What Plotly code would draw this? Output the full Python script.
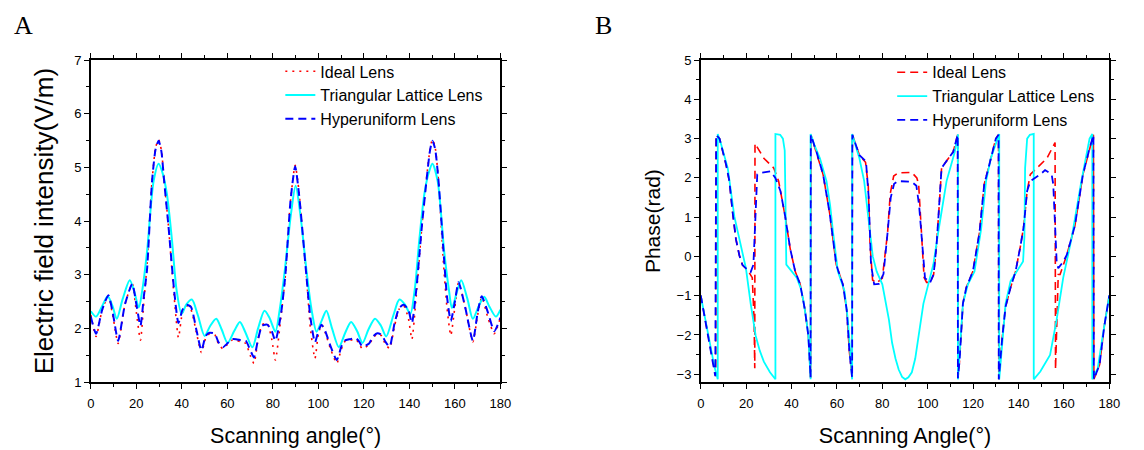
import plotly.graph_objects as go

# ---------------- Panel A: electric field intensity ----------------
a_tri_x = [0, 2.3, 5, 7.4, 9.5, 11.4, 14, 17.1, 19, 21.1, 22.6, 24.7, 27.6, 29.8, 31.5, 33.4, 35.6, 37.7,
           39.9, 42, 44.4, 47, 50.0, 52.5, 55.1, 57.5, 60.1, 63, 65.5, 68, 71.0, 73.5, 76.3, 78.5, 81.1,
           83, 85.2, 88, 90, 92, 94.8, 97, 99.2, 101.5, 103.5, 106, 109.0, 111.8, 114.4, 117, 119.4,
           122, 124.9, 127.5, 129.8, 133, 135.6, 138, 140.4, 142.3, 144.4, 146.6, 148.5, 150.1, 152.4,
           155.3, 157.4, 158.7, 161, 162.8, 165.5, 167.9, 170.5, 172.9, 175, 178, 180]
a_tri_y = [2.32, 2.22, 2.42, 2.60, 2.42, 2.18, 2.55, 2.90, 2.70, 2.39, 2.71, 3.43, 4.75, 5.07, 4.90, 4.51, 3.67, 2.71,
           2.27, 2.45, 2.54, 2.25, 1.86, 2.05, 2.18, 1.98, 1.73, 1.95, 2.12, 1.92, 1.65, 2.00, 2.33, 2.20, 1.94,
           2.35, 3.07, 4.15, 4.66, 4.15, 3.07, 2.35, 1.94, 2.15, 2.33, 2.00, 1.65, 1.92, 2.12, 1.95, 1.73,
           1.98, 2.18, 2.05, 1.85, 2.25, 2.54, 2.45, 2.27, 2.71, 3.67, 4.51, 4.90, 5.07, 4.75,
           3.43, 2.71, 2.38, 2.70, 2.90, 2.55, 2.18, 2.42, 2.59, 2.42, 2.22, 2.35]

a_hyp_x = [0, 2.3, 5, 7.7, 9.8, 12.0, 15, 18.2, 20, 21.8, 23.3, 24.7, 26.9, 28.5, 29.8, 31, 32.2, 34.1, 36.6,
           38.5, 40.3, 42.1, 44, 46.5, 48.6, 50.5, 52.2, 54.5, 56, 58.0, 60, 62, 63.8, 66, 68.1, 70, 71.7,
           73.5, 75.3, 77.5, 79.5, 81.1, 83.5, 85.5, 87.8, 89.8, 91.5, 92.2, 94.8, 96.5, 98.5, 100, 101.4,
           103, 105.5, 108.1, 110, 111.5, 114, 116.5, 118, 119.4, 122.3, 124, 125.9, 127.8, 129.5, 131.3,
           133.5, 135.5, 137.5, 139.5, 141.1, 143, 145.5, 147.5, 149, 150.1, 151.3, 152.8, 155, 156.5,
           158.2, 160, 161.6, 164.5, 167.9, 170, 171.8, 174.5, 177.3, 180]
a_hyp_y = [2.22, 1.90, 2.35, 2.62, 2.25, 1.77, 2.45, 2.83, 2.45, 2.05, 2.60, 3.10, 4.75, 5.35, 5.50, 5.30, 4.75, 3.91, 2.71,
           2.10, 2.35, 2.44, 2.40, 1.95, 1.59, 1.86, 1.92, 1.90, 1.75, 1.65, 1.72, 1.80, 1.80, 1.78, 1.77, 1.60, 1.46,
           1.80, 2.05, 2.07, 1.95, 1.77, 2.25, 3.00, 4.40, 5.02, 4.50, 4.20, 2.95, 2.20, 1.74, 1.95, 2.07,
           1.95, 1.65, 1.41, 1.65, 1.77, 1.80, 1.82, 1.75, 1.66, 1.72, 1.85, 1.91, 1.88, 1.75, 1.66,
           2.10, 2.38, 2.44, 2.35, 2.10, 2.71, 3.91, 4.75, 5.30, 5.50, 5.35, 4.75, 3.43, 2.60,
           2.14, 2.50, 2.86, 2.40, 1.77, 2.30, 2.60, 2.30, 1.95, 2.20]

a_ideal_x = a_hyp_x
a_ideal_y = [2.25, 1.85, 2.35, 2.60, 2.20, 1.72, 2.45, 2.83, 2.30, 1.78, 2.50, 3.20, 4.75, 5.38, 5.52, 5.32, 4.78, 3.91, 2.60,
             1.83, 2.30, 2.42, 2.35, 1.90, 1.55, 1.82, 1.90, 1.88, 1.72, 1.62, 1.70, 1.78, 1.78, 1.75, 1.72, 1.50, 1.35,
             1.80, 2.07, 2.10, 1.80, 1.41, 2.20, 3.00, 4.40, 5.04, 4.55, 4.20, 2.95, 2.00, 1.44, 1.90, 2.07,
             1.92, 1.60, 1.35, 1.60, 1.75, 1.78, 1.80, 1.70, 1.62, 1.70, 1.82, 1.90, 1.86, 1.70, 1.63,
             2.05, 2.36, 2.42, 2.20, 1.80, 2.60, 3.91, 4.78, 5.32, 5.52, 5.38, 4.75, 3.20, 2.40,
             1.87, 2.40, 2.85, 2.40, 1.75, 2.25, 2.58, 2.20, 1.90, 2.20]

# ---------------- Panel B: phase ----------------
b_tri_x = [0, 2, 4, 6, 7.5, 7.5, 9, 11.9, 14.8, 17.7, 19.9, 22.0, 24.2, 26, 27.8, 30.5, 32.9, 32.9, 35, 36.2, 37.0,
           37.3, 37.7, 40.1, 42.3, 44, 45.2, 46.5, 47.4, 48.4, 48.4, 50, 52.5, 55.4, 57, 58.3, 60.4, 63.3, 64.8,
           65.8, 66.7, 66.7, 68.5, 69.9, 72.0, 74.2, 75.8, 77.5, 80.0, 82.9, 84.3, 85.8, 87.2, 88.7, 90.1, 91.5,
           93.0, 94.5, 95.9, 98.1,
           101.0, 102.5, 104.6, 106.5, 108.3, 111.9, 113.3, 113.3, 114.1, 115.5, 117.7, 120.6, 123.5, 125.7,
           127.8, 130.7, 131.5, 131.5, 132.6, 134.3, 136.5, 139.4, 142.0, 142.6, 142.9, 143.8, 145, 146.7,
           146.7, 149.6, 153.9, 156.8, 159.7, 163.3, 167.7, 171.3, 172.5, 172.5, 174.9, 177.1, 180]
b_tri_y = [-1.0, -1.6, -2.3, -2.8, -3.13, 3.12, 2.85, 2.25, 1.02, 0.28, -0.30, -1.20, -2.02, -2.40, -2.68, -2.95, -3.13, 3.12, 3.10, 3.00, 2.70,
           1.50, -0.21, -0.38, -0.54, -0.80, -1.12, -1.60, -2.02, -3.13, 3.12, 2.85, 2.50, 1.92, 1.30, 0.61, -0.38, -0.87, -1.61,
           -2.40, -3.13, 3.12, 2.80, 2.50, 1.92, 0.77, 0.00, -0.38, -0.71, -1.61, -2.20, -2.60, -2.88, -3.07, -3.13, -3.08,
           -2.95, -2.60, -2.02, -1.20,
           -0.54, -0.20, 0.61, 1.30, 1.92, 2.66, 3.11, -3.13, -2.43, -1.20, -0.71, -0.38, 0.69, 1.92,
           2.50, 3.03, 3.12, -3.13, -2.30, -1.20, -0.63, -0.38, -0.13, 0.50, 2.25, 3.00, 3.10, 3.12,
           -3.13, -2.93, -2.51, -1.61, -0.54, 0.44, 1.92, 3.00, 3.12, -3.13, -2.85, -2.02, -0.99]

b_ideal_x = [0, 3.2, 5.4, 6.6, 6.8, 8.3, 11.2, 12.6, 14.1, 15.5, 17.0, 18.4, 20.6, 22.7, 23.5, 23.8, 23.9, 27.8, 32.2,
             34.3, 35.5, 37.2, 39.4, 41.6, 43.8, 45.9, 47.4, 48.4, 48.5, 51.0, 53.9, 56.8, 59.7, 62.6, 64.3, 65.5,
             66.7, 66.8, 69.9, 72.6, 73.8, 74.6, 75.7, 77.5, 80.0, 82.3, 83.5, 85.0, 87, 93, 95.2, 96.0, 97.4,
             98.4, 99.5, 101, 102.6, 103.9, 105.3, 106.1, 107.5, 111.2, 113.2, 113.3, 114, 115.5, 117, 119.9,
             122.8, 124.9, 127.1, 130.0, 131.2, 131.3, 132.9, 134.3, 136.5, 138.7, 140.9, 142.3, 143.8, 145.2,
             148.1, 152.5, 156.1, 156.3, 157.5, 158.3, 161.2, 164.8, 168.4, 171.3, 173.0, 173.2, 175.7, 177.8, 180]
b_ideal_y = [-0.99, -2.02, -2.76, -3.05, 3.10, 3.00, 2.33, 1.92, 1.10, 0.44, 0.03, -0.22, -0.34, -0.54, -1.61, -2.85, 2.88, 2.50, 2.25,
             1.92, 1.55, 1.02, 0.20, -0.38, -0.71, -1.36, -2.02, -3.09, 3.10, 2.66, 2.09, 1.10, -0.21, -0.71, -1.36, -2.43,
             -3.09, 3.10, 2.58, 2.40, 1.80, 0.30, -0.60, -0.68, -0.55, 0.60, 1.60, 2.05, 2.13, 2.14, 2.00, 1.84, 0.44,
             -0.54, -0.66, -0.66, -0.46, 0.30, 1.50, 2.25, 2.37, 2.66, 3.10, -3.10, -2.68, -1.20, -0.79, -0.38,
             0.61, 1.84, 2.33, 3.00, 3.10, -3.13, -2.02, -1.28, -0.79, -0.38, 0.28, 0.77, 1.67, 2.09,
             2.25, 2.50, 2.90, -2.88, -0.46, -0.46, 0.03, 0.77, 2.09, 2.75, 3.10, -3.13, -2.76, -1.77, -0.99]

b_hyp_x = [0, 3.2, 5.4, 6.4, 6.8, 8.3, 11.2, 12.6, 14.1, 15.5, 17.0, 18.4, 20.6, 22.0, 23.2, 24.2, 24.9, 26.4, 30.7,
           32.9, 35.1, 37.2, 39.4, 41.6, 43.8, 45.9, 47.4, 48.4, 48.5, 51.0, 53.9, 56.8, 59.7, 62.6, 64.3, 65.5,
           66.7, 66.8, 69.9, 72.8, 74.0, 75.0, 76.4, 78.5, 80.5, 82.3, 83.7, 85.2, 87, 93, 95, 96.2, 97.6,
           98.8, 101.0, 102.6, 103.9, 105.3, 106.1, 107.5, 111.2, 113.2, 113.3, 114, 115.5, 117, 119.9,
           122.8, 124.9, 127.1, 130.0, 131.2, 131.3, 132.9, 134.3, 136.5, 138.7, 140.9, 142.3, 143.8, 145.2,
           149.6, 151.7, 154.6, 155.3, 156.8, 157.5, 159.7, 161.2, 164.8, 168.4, 171.3, 173.0, 173.2, 175.7,
           177.8, 180]
b_hyp_y = [-0.99, -2.02, -2.76, -3.05, 3.10, 3.00, 2.33, 1.92, 1.10, 0.44, 0.03, -0.22, -0.34, -0.40, -0.21, 1.27, 2.09, 2.13, 2.17,
           2.00, 1.67, 1.02, 0.20, -0.38, -0.71, -1.36, -2.02, -3.09, 3.10, 2.66, 2.09, 1.10, -0.21, -0.71, -1.36, -2.43,
           -3.09, 3.10, 2.58, 2.42, 1.50, -0.20, -0.71, -0.70, -0.45, 0.60, 1.50, 1.85, 1.92, 1.90, 1.80, 1.30, 0.20,
           -0.55, -0.67, -0.46, 0.30, 1.50, 2.25, 2.37, 2.66, 3.10, -3.10, -2.68, -1.20, -0.79, -0.38,
           0.61, 1.84, 2.33, 3.00, 3.10, -3.13, -2.02, -1.28, -0.79, -0.38, 0.28, 0.77, 1.67, 1.92,
           2.09, 2.20, 2.09, 1.84, -0.13, -0.30, -0.13, 0.03, 0.77, 2.09, 2.75, 3.10, -3.13, -2.76,
           -1.77, -0.99]

x_ticks = [0, 20, 40, 60, 80, 100, 120, 140, 160, 180]
a_yticks = [1, 2, 3, 4, 5, 6, 7]
b_yticks = [-3, -2, -1, 0, 1, 2, 3, 4, 5]

RED = "#ff0000"
CYAN = "#00ffff"
BLUE = "#0000ff"
FONT = "Liberation Sans, Arial, sans-serif"
SERIF = "Liberation Serif, Times New Roman, serif"

fig = go.Figure()
fig.add_trace(go.Scatter(x=a_ideal_x, y=a_ideal_y, name="Ideal Lens", mode="lines",
                         line=dict(color=RED, width=1.6, dash="2px,5px", shape="spline", smoothing=0.6),
                         xaxis="x", yaxis="y", legend="legend"))
fig.add_trace(go.Scatter(x=a_tri_x, y=a_tri_y, name="Triangular Lattice Lens", mode="lines",
                         line=dict(color=CYAN, width=2, shape="spline", smoothing=0.8),
                         xaxis="x", yaxis="y", legend="legend"))
fig.add_trace(go.Scatter(x=a_hyp_x, y=a_hyp_y, name="Hyperuniform Lens", mode="lines",
                         line=dict(color=BLUE, width=2, dash="8px,5px", shape="spline", smoothing=0.6),
                         xaxis="x", yaxis="y", legend="legend"))

fig.add_trace(go.Scatter(x=b_ideal_x, y=b_ideal_y, name="Ideal Lens", mode="lines",
                         line=dict(color=RED, width=1.6, dash="8px,5px"),
                         xaxis="x2", yaxis="y2", legend="legend2"))
fig.add_trace(go.Scatter(x=b_tri_x, y=b_tri_y, name="Triangular Lattice Lens", mode="lines",
                         line=dict(color=CYAN, width=1.8),
                         xaxis="x2", yaxis="y2", legend="legend2"))
fig.add_trace(go.Scatter(x=b_hyp_x, y=b_hyp_y, name="Hyperuniform Lens", mode="lines",
                         line=dict(color=BLUE, width=1.8, dash="8px,5px"),
                         xaxis="x2", yaxis="y2", legend="legend2"))

W, H = 1144, 450
def dx(px):
    return px / W
def dy(py):
    return 1 - py / H

axis_common = dict(showline=True, linecolor="black", linewidth=1.5, mirror="allticks",
                   ticks="outside", ticklen=5, tickwidth=1.2, tickcolor="black",
                   showgrid=False, zeroline=False,
                   tickfont=dict(family=FONT, size=13, color="black"))

fig.update_layout(
    width=W, height=H, margin=dict(l=0, r=0, t=0, b=0),
    paper_bgcolor="white", plot_bgcolor="white",
    xaxis=dict(domain=[dx(88), dx(503)], range=[0, 180], tickvals=x_ticks, anchor="y",
               ticklabelstandoff=4,
               minor=dict(dtick=10, tick0=0, ticks="outside", ticklen=3, tickcolor="black"),
               title=dict(text="Scanning angle(\u00b0)", font=dict(family=FONT, size=21.5, color="black"), standoff=18),
               **axis_common),
    yaxis=dict(domain=[dy(388), dy(55)], range=[1, 7], tickvals=a_yticks, anchor="x",
               minor=dict(dtick=0.5, tick0=1, ticks="outside", ticklen=3, tickcolor="black"),
               title=dict(text="Electric field intensity(V/m)", font=dict(family=FONT, size=26, color="black"), standoff=13),
               **axis_common),
    xaxis2=dict(domain=[dx(706), dx(1120)], range=[0, 180], tickvals=x_ticks, anchor="y2",
                ticklabelstandoff=4,
                minor=dict(dtick=10, tick0=0, ticks="outside", ticklen=3, tickcolor="black"),
                title=dict(text="Scanning Angle(\u00b0)", font=dict(family=FONT, size=21.5, color="black"), standoff=18),
                **axis_common),
    yaxis2=dict(domain=[dy(388), dy(55)], range=[-3.2, 5], tickvals=b_yticks, anchor="x2",
                minor=dict(dtick=0.5, tick0=-3, ticks="outside", ticklen=3, tickcolor="black"),
                title=dict(text="Phase(rad)", font=dict(family=FONT, size=21, color="black"), standoff=10),
                **axis_common),
    legend=dict(x=dx(280), y=dy(49), xanchor="left", yanchor="top", bgcolor="rgba(0,0,0,0)",
                font=dict(family=FONT, size=16, color="black"), tracegroupgap=0),
    legend2=dict(x=dx(900), y=dy(50), xanchor="left", yanchor="top", bgcolor="rgba(0,0,0,0)",
                 font=dict(family=FONT, size=16, color="black"), tracegroupgap=0),
    annotations=[
        dict(text="A", x=dx(8), y=dy(2), xref="paper", yref="paper", xanchor="left", yanchor="top",
             showarrow=False, font=dict(family=SERIF, size=26, color="black")),
        dict(text="B", x=dx(597), y=dy(2), xref="paper", yref="paper", xanchor="left", yanchor="top",
             showarrow=False, font=dict(family=SERIF, size=26, color="black")),
    ],
)

fig.write_html("out.html")
